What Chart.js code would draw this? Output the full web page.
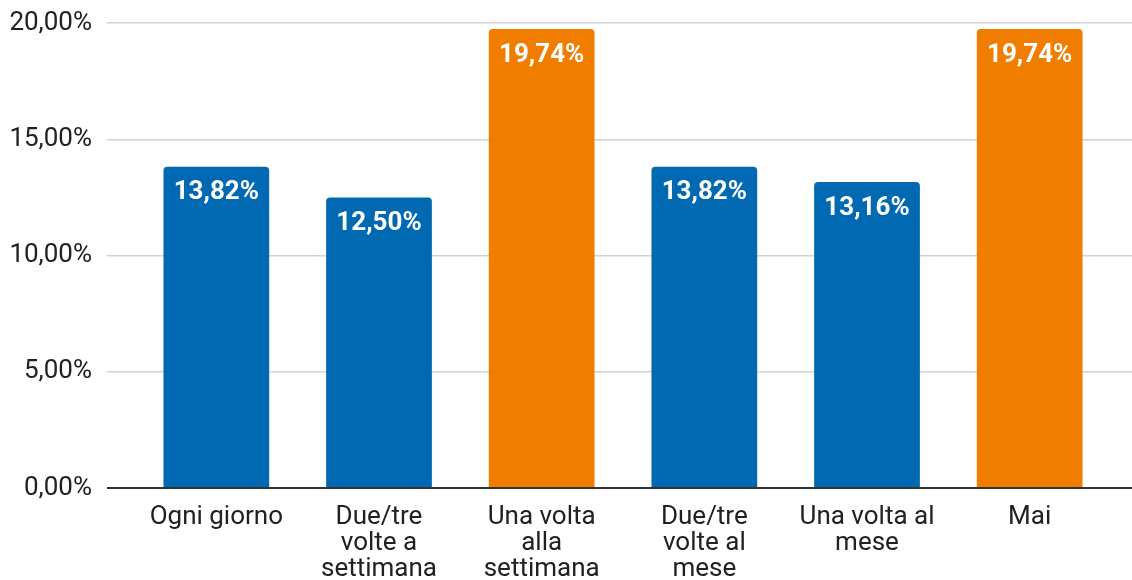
<!DOCTYPE html>
<html>
<head>
<meta charset="utf-8">
<script src="https://cdn.jsdelivr.net/npm/chart.js@4.4.1/dist/chart.umd.min.js"></script>
<style>
  html, body { margin: 0; padding: 0; background: #fff; }
  #wrap { width: 1132px; height: 580px; position: relative; }
</style>
</head>
<body>
<div id="wrap"><canvas id="chart"></canvas></div>
<script>
// frequency categories (multi-line labels) and share of answers in %
const categories = [
  ["Ogni giorno"],
  ["Due/tre", "volte a", "settimana"],
  ["Una volta", "alla", "settimana"],
  ["Due/tre", "volte al", "mese"],
  ["Una volta al", "mese"],
  ["Mai"]
];
const values = [13.82, 12.50, 19.74, 13.82, 13.16, 19.74];
const yTicks = [0, 5, 10, 15, 20];

const BLUE = "#0169b2";
const ORANGE = "#f07c00";
const topValue = Math.max(...values);
const barColors = values.map(v => (v === topValue ? ORANGE : BLUE));

const fmt = v => v.toFixed(2).replace(".", ",") + "%";

// white value labels inside the top of each bar
const valueLabels = {
  id: "valueLabels",
  afterDatasetsDraw(chart) {
    const ctx = chart.ctx;
    const meta = chart.getDatasetMeta(0);
    ctx.save();
    ctx.fillStyle = "#ffffff";
    ctx.font = "bold 26px Roboto";
    ctx.textAlign = "center";
    ctx.textBaseline = "middle";
    meta.data.forEach((bar, i) => {
      ctx.fillText(fmt(values[i]), bar.x, bar.y + 26);
    });
    ctx.restore();
  }
};

const gridColor = ctx => (ctx.tick && ctx.tick.value === 0 ? "#333333" : "#d2d2d2");
const gridWidth = ctx => (ctx.tick && ctx.tick.value === 0 ? 2 : 1.5);

new Chart(document.getElementById("chart"), {
  type: "bar",
  data: {
    labels: categories,
    datasets: [{
      data: values,
      backgroundColor: barColors,
      borderRadius: 4,
      borderSkipped: "bottom",
      barPercentage: 1,
      categoryPercentage: 0.65
    }]
  },
  options: {
    responsive: true,
    maintainAspectRatio: false,
    animation: false,
    layout: { padding: { top: 23, left: 8, right: 0, bottom: 0 } },
    plugins: {
      legend: { display: false },
      tooltip: { enabled: false }
    },
    scales: {
      x: {
        grid: { display: false },
        border: { display: false },
        ticks: {
          color: "#212121",
          font: { family: "Roboto", size: 26, lineHeight: 1.0 },
          padding: 8,
          maxRotation: 0,
          autoSkip: false
        },
        afterFit(scale) { scale.height = 92; }
      },
      y: {
        min: 0,
        max: 20,
        afterBuildTicks(scale) { scale.ticks = yTicks.map(v => ({ value: v })); },
        grid: { color: gridColor, lineWidth: gridWidth, drawTicks: true, tickLength: 28 },
        border: { display: false },
        ticks: {
          color: "#212121",
          font: { family: "Roboto", size: 26, lineHeight: 0.6 },
          padding: 15,
          callback: v => fmt(v)
        },
        afterFit(scale) { scale.width = 127; }
      },
      // right-hand stub so gridlines run to the edge
      yRight: {
        position: "right",
        min: 0,
        max: 20,
        afterBuildTicks(scale) { scale.ticks = yTicks.map(v => ({ value: v })); },
        grid: { color: gridColor, lineWidth: gridWidth, drawOnChartArea: false, drawTicks: true, tickLength: 21 },
        border: { display: false },
        ticks: { display: false }
      }
    }
  },
  plugins: [valueLabels]
});
</script>
</body>
</html>
